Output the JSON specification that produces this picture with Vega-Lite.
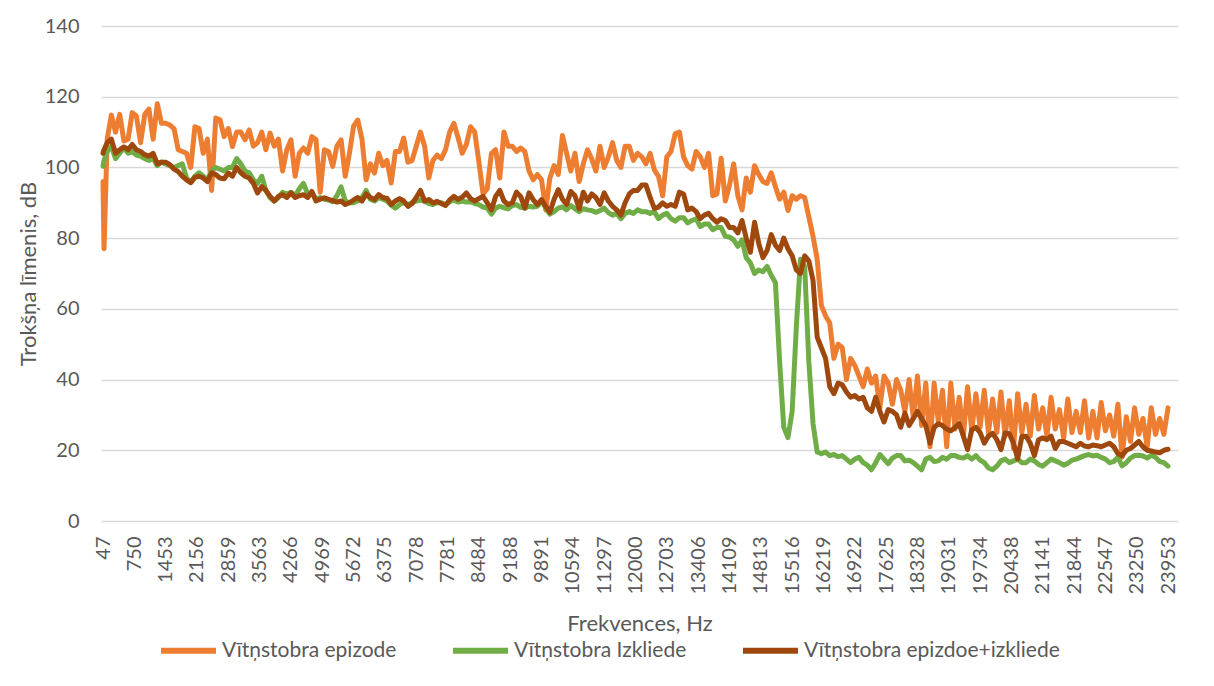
{
"$schema": "https://vega.github.io/schema/vega-lite/v6.json",
"width": 1077,
"height": 495,
"autosize": {"type": "none"},
"padding": {"left": 101, "top": 26, "right": 36, "bottom": 165},
"background": "white",
"config": {"view": {"stroke": null}, "font": "Lato"},
"data": {"values": [
{"f":47,"a":96,"b":100.3,"c":104},{"f":70,"a":77,"b":102,"c":105},{"f":141,"a":108,"b":104.5,"c":107},{"f":235,"a":114.8,"b":106,"c":108},{"f":328,"a":110,"b":102.5,"c":104},{"f":422,"a":115,"b":104,"c":105},{"f":516,"a":107.5,"b":105.5,"c":105.8},{"f":610,"a":108,"b":104,"c":105},{"f":703,"a":115.5,"b":104.5,"c":106.5},{"f":797,"a":114.5,"b":103.5,"c":105},{"f":891,"a":107,"b":103.2,"c":104.5},{"f":985,"a":115,"b":102.5,"c":103.6},{"f":1078,"a":116.5,"b":102,"c":103.2},{"f":1172,"a":108,"b":102.5,"c":104},{"f":1266,"a":118,"b":100.5,"c":101},{"f":1360,"a":112.5,"b":101.5,"c":101.5},{"f":1453,"a":112.5,"b":101,"c":101.5},{"f":1547,"a":112,"b":100.5,"c":100.8},{"f":1641,"a":111,"b":100,"c":99.5},{"f":1735,"a":105,"b":100.5,"c":98.8},{"f":1828,"a":104.5,"b":101,"c":97.5},{"f":1922,"a":104,"b":97,"c":96.5},{"f":2016,"a":100,"b":95.8,"c":95.7},{"f":2110,"a":111.5,"b":97.5,"c":97.2},{"f":2203,"a":111,"b":98.5,"c":97.5},{"f":2297,"a":104,"b":97.5,"c":97},{"f":2391,"a":108,"b":96.5,"c":96},{"f":2485,"a":93.5,"b":99,"c":98.5},{"f":2578,"a":114,"b":100,"c":98},{"f":2672,"a":113.5,"b":99.5,"c":97},{"f":2766,"a":108.7,"b":99,"c":96.8},{"f":2860,"a":111,"b":100,"c":98.4},{"f":2953,"a":105.9,"b":100,"c":97.5},{"f":3047,"a":110,"b":102.5,"c":100},{"f":3141,"a":110,"b":101,"c":98.5},{"f":3235,"a":107.8,"b":99,"c":97.5},{"f":3328,"a":110.6,"b":98.5,"c":97},{"f":3422,"a":106,"b":96.5,"c":95.5},{"f":3516,"a":107,"b":95.5,"c":92.8},{"f":3610,"a":110,"b":97.5,"c":94.6},{"f":3703,"a":105,"b":93.5,"c":93.5},{"f":3797,"a":109.7,"b":91.5,"c":91.8},{"f":3891,"a":106,"b":90.5,"c":90.5},{"f":3985,"a":108,"b":91.5,"c":91.8},{"f":4078,"a":99,"b":93,"c":92.3},{"f":4172,"a":105,"b":92.5,"c":91.5},{"f":4266,"a":107.8,"b":93,"c":92.8},{"f":4360,"a":97.5,"b":92,"c":91.5},{"f":4453,"a":104,"b":94,"c":92},{"f":4547,"a":105.5,"b":95.5,"c":92.3},{"f":4641,"a":104,"b":92.5,"c":91.5},{"f":4735,"a":108.7,"b":92.8,"c":93.2},{"f":4828,"a":107.8,"b":91,"c":90.5},{"f":4922,"a":93,"b":91.5,"c":91},{"f":5016,"a":105,"b":91,"c":91.4},{"f":5110,"a":104.5,"b":90.8,"c":91},{"f":5203,"a":100.3,"b":90.3,"c":90.6},{"f":5297,"a":106,"b":92,"c":90.2},{"f":5391,"a":107.8,"b":94.5,"c":90.5},{"f":5485,"a":97.5,"b":90.5,"c":89.5},{"f":5578,"a":104,"b":90,"c":90},{"f":5672,"a":111.7,"b":90,"c":90.8},{"f":5766,"a":113.4,"b":90.5,"c":91.5},{"f":5860,"a":108,"b":91.5,"c":90.5},{"f":5953,"a":96.5,"b":93.5,"c":92.5},
{"f":6047,"a":101,"b":91,"c":91.5},{"f":6141,"a":98.4,"b":90.5,"c":90.9},{"f":6235,"a":104,"b":91.5,"c":92.3},{"f":6328,"a":100.5,"b":91,"c":91.5},{"f":6422,"a":102,"b":90.5,"c":91.2},{"f":6516,"a":95.6,"b":89.3,"c":89.5},{"f":6610,"a":104.5,"b":88.5,"c":90.5},{"f":6703,"a":104.5,"b":89.5,"c":91.2},{"f":6797,"a":108.3,"b":90,"c":90.5},{"f":6891,"a":101.5,"b":89.5,"c":89},{"f":6985,"a":102,"b":90,"c":89.8},{"f":7078,"a":106,"b":90.5,"c":91.5},{"f":7172,"a":110,"b":90.8,"c":93.5},{"f":7266,"a":106,"b":90.4,"c":90.5},{"f":7360,"a":97,"b":89.8,"c":90.9},{"f":7453,"a":102,"b":89.5,"c":90},{"f":7547,"a":103.5,"b":90,"c":90.4},{"f":7641,"a":102.5,"b":90,"c":89.8},{"f":7735,"a":105,"b":89.5,"c":89.2},{"f":7828,"a":110,"b":90.3,"c":90.8},{"f":7922,"a":112.5,"b":90.8,"c":91.8},{"f":8016,"a":108.5,"b":90.2,"c":91},{"f":8110,"a":104,"b":90.5,"c":91.6},{"f":8203,"a":106.5,"b":90.2,"c":92.8},{"f":8297,"a":111.5,"b":90.3,"c":91.2},{"f":8391,"a":110,"b":89.8,"c":90.5},{"f":8485,"a":101.5,"b":89.5,"c":91.2},{"f":8578,"a":92.5,"b":88.8,"c":91.8},{"f":8672,"a":94,"b":88.5,"c":90},{"f":8766,"a":104,"b":86.8,"c":88},{"f":8860,"a":105,"b":88.5,"c":91.8},{"f":8953,"a":97,"b":89,"c":93.5},{"f":9047,"a":110,"b":88.6,"c":90.5},{"f":9141,"a":106,"b":88.3,"c":89.5},{"f":9235,"a":106,"b":89.2,"c":90},{"f":9328,"a":104.5,"b":89.5,"c":93},{"f":9422,"a":105.5,"b":88.7,"c":91.8},{"f":9516,"a":104.5,"b":88.5,"c":88.5},{"f":9610,"a":99,"b":89,"c":92.8},{"f":9703,"a":96.5,"b":88.8,"c":90.9},{"f":9797,"a":98,"b":89,"c":89.5},{"f":9891,"a":96.5,"b":90.5,"c":90.9},{"f":9985,"a":88,"b":88.5,"c":89},{"f":10078,"a":97,"b":86.8,"c":87.3},{"f":10172,"a":100.5,"b":87.5,"c":91},{"f":10266,"a":98,"b":88.5,"c":93.7},{"f":10360,"a":109,"b":88.8,"c":91},{"f":10453,"a":104,"b":88,"c":89.5},{"f":10547,"a":99,"b":89.2,"c":93.2},{"f":10641,"a":104,"b":88.3,"c":92},{"f":10735,"a":96,"b":87.5,"c":88.3},{"f":10828,"a":101,"b":88.3,"c":93},{"f":10922,"a":105,"b":88,"c":90.5},{"f":11016,"a":102.5,"b":87.8,"c":92.5},{"f":11110,"a":99,"b":87.3,"c":91.5},{"f":11203,"a":106,"b":87.8,"c":89.5},{"f":11297,"a":100,"b":88.5,"c":92.8},{"f":11391,"a":103,"b":87.2,"c":90.5},{"f":11485,"a":107,"b":86.5,"c":89},{"f":11578,"a":102,"b":87,"c":88},{"f":11672,"a":100,"b":85.5,"c":86.5},{"f":11766,"a":106,"b":87,"c":90},{"f":11860,"a":106,"b":87.5,"c":92.5},{"f":11953,"a":102,"b":87,"c":93.5},
{"f":12047,"a":104,"b":88,"c":93.5},{"f":12141,"a":103,"b":87.5,"c":95},{"f":12235,"a":101,"b":87.5,"c":95},{"f":12328,"a":104,"b":87,"c":91.5},{"f":12422,"a":99.3,"b":87.5,"c":88.4},{"f":12516,"a":97.5,"b":85.5,"c":88.8},{"f":12610,"a":92,"b":86.5,"c":90},{"f":12703,"a":103,"b":87,"c":89},{"f":12797,"a":104.5,"b":85.5,"c":89.5},{"f":12891,"a":109.5,"b":84.8,"c":89},{"f":12985,"a":110,"b":85.8,"c":93},{"f":13078,"a":103,"b":85.8,"c":92.5},{"f":13172,"a":100.5,"b":84.3,"c":88},{"f":13266,"a":99.5,"b":85,"c":88.5},{"f":13360,"a":104.5,"b":85.5,"c":87.5},{"f":13453,"a":103,"b":83.3,"c":85.5},{"f":13547,"a":100,"b":84,"c":86.5},{"f":13641,"a":104,"b":84,"c":87},{"f":13735,"a":92,"b":82.4,"c":85.5},{"f":13828,"a":92.5,"b":83,"c":84.5},{"f":13922,"a":102.6,"b":83,"c":85.5},{"f":14016,"a":90.5,"b":80.5,"c":85},{"f":14110,"a":95,"b":80.3,"c":83},{"f":14203,"a":101,"b":79.5,"c":83},{"f":14297,"a":92,"b":77.7,"c":81.5},{"f":14391,"a":88,"b":79.5,"c":85},{"f":14485,"a":97,"b":74.5,"c":80},{"f":14578,"a":93,"b":73,"c":76},{"f":14672,"a":100.5,"b":70,"c":84.5},{"f":14766,"a":98,"b":71,"c":78.5},{"f":14860,"a":96,"b":70.5,"c":74.5},{"f":14953,"a":95.5,"b":72,"c":76.5},{"f":15047,"a":98.5,"b":69.5,"c":81},{"f":15141,"a":94.5,"b":67.4,"c":78},{"f":15235,"a":91,"b":45,"c":76.5},{"f":15328,"a":93,"b":26.5,"c":80},{"f":15422,"a":87.8,"b":23.6,"c":77},{"f":15516,"a":92,"b":31,"c":75},{"f":15610,"a":91,"b":55,"c":71},{"f":15703,"a":92,"b":74,"c":70},{"f":15797,"a":91.5,"b":72,"c":75},{"f":15891,"a":86,"b":45,"c":73.5},{"f":15985,"a":80.5,"b":27.5,"c":68},{"f":16078,"a":74,"b":19.5,"c":52},{"f":16172,"a":61,"b":19,"c":49},{"f":16266,"a":58,"b":19.5,"c":46},{"f":16360,"a":56,"b":18.5,"c":38},{"f":16453,"a":46,"b":18.8,"c":36},{"f":16547,"a":50,"b":18.2,"c":39},{"f":16641,"a":49,"b":18.5,"c":38.5},{"f":16735,"a":40,"b":17.5,"c":36.5},{"f":16828,"a":46,"b":16.5,"c":35},{"f":16922,"a":44,"b":17.5,"c":35.5},{"f":17016,"a":41,"b":18,"c":34.5},{"f":17110,"a":38,"b":16.5,"c":35},{"f":17203,"a":43,"b":15.8,"c":32},{"f":17297,"a":39,"b":14.5,"c":31},{"f":17391,"a":41,"b":16.5,"c":35},{"f":17485,"a":32,"b":18.8,"c":31},{"f":17578,"a":41,"b":17.5,"c":28},{"f":17672,"a":39,"b":16.2,"c":31.5},{"f":17766,"a":33,"b":17.8,"c":31},{"f":17860,"a":40,"b":18.5,"c":30},{"f":17953,"a":37,"b":18.5,"c":26.5},
{"f":18047,"a":31,"b":17,"c":30.5},{"f":18141,"a":40,"b":17.2,"c":27},{"f":18235,"a":29,"b":16.5,"c":29},{"f":18328,"a":41,"b":15.5,"c":31},{"f":18422,"a":27,"b":14.5,"c":29},{"f":18516,"a":39,"b":17.5,"c":27},{"f":18610,"a":21,"b":18,"c":22},{"f":18703,"a":39,"b":16.8,"c":26.5},{"f":18797,"a":28,"b":17,"c":27.5},{"f":18891,"a":37,"b":18,"c":27},{"f":18985,"a":21,"b":17.5,"c":26},{"f":19078,"a":39,"b":18.5,"c":25.5},{"f":19172,"a":26,"b":18.5,"c":26.5},{"f":19266,"a":35,"b":18,"c":27.5},{"f":19360,"a":24,"b":17.8,"c":24},{"f":19453,"a":38,"b":18.5,"c":20.2},{"f":19547,"a":25.5,"b":17.5,"c":25.8},{"f":19641,"a":36,"b":18.5,"c":26.5},{"f":19735,"a":26.5,"b":17.2,"c":25},{"f":19828,"a":37,"b":16.5,"c":22},{"f":19922,"a":25,"b":15,"c":24},{"f":20016,"a":34.5,"b":14.5,"c":24.8},{"f":20110,"a":25,"b":15.5,"c":23},{"f":20203,"a":36.5,"b":17,"c":20.2},{"f":20297,"a":24,"b":17.5,"c":24.9},{"f":20391,"a":34,"b":16.5,"c":24.7},{"f":20485,"a":20.5,"b":17,"c":22},{"f":20578,"a":36,"b":17.5,"c":17.6},{"f":20672,"a":25,"b":16.5,"c":23.9},{"f":20766,"a":33,"b":16.5,"c":24},{"f":20860,"a":24,"b":17.5,"c":22},{"f":20953,"a":35.5,"b":17,"c":18.5},{"f":21047,"a":26,"b":16,"c":23},{"f":21141,"a":32,"b":15.5,"c":23.5},{"f":21235,"a":24,"b":16.5,"c":23},{"f":21328,"a":35,"b":17.5,"c":24},{"f":21422,"a":26,"b":17,"c":20.5},{"f":21516,"a":31.5,"b":16.5,"c":22.5},{"f":21610,"a":23.5,"b":15.8,"c":22.5},{"f":21703,"a":34.5,"b":16.3,"c":22},{"f":21797,"a":25,"b":17.2,"c":21.5},{"f":21891,"a":31,"b":17.5,"c":21},{"f":21985,"a":25,"b":18,"c":22},{"f":22078,"a":34,"b":18.5,"c":21.2},{"f":22172,"a":23.5,"b":18.8,"c":21},{"f":22266,"a":31,"b":18.4,"c":21.5},{"f":22360,"a":23.5,"b":18.6,"c":21.3},{"f":22453,"a":33.5,"b":18,"c":21},{"f":22547,"a":25.5,"b":17.5,"c":21.5},{"f":22641,"a":30,"b":16.5,"c":22},{"f":22735,"a":24,"b":16.8,"c":21},{"f":22828,"a":33,"b":18,"c":19},{"f":22922,"a":18,"b":15.6,"c":18.5},{"f":23016,"a":29.5,"b":16.5,"c":20},{"f":23110,"a":22.5,"b":17.8,"c":20.5},{"f":23203,"a":32,"b":18.5,"c":21.5},{"f":23297,"a":24.5,"b":18.6,"c":22.5},{"f":23391,"a":29,"b":18.4,"c":21},{"f":23485,"a":21,"b":17.8,"c":20},{"f":23578,"a":32,"b":18.6,"c":19.8},{"f":23672,"a":24.5,"b":18,"c":19.5},{"f":23766,"a":29,"b":16.8,"c":19.3},{"f":23860,"a":24.5,"b":16.5,"c":20},{"f":23953,"a":32,"b":15.5,"c":20.3}
]},
"transform": [{"fold": ["a", "b", "c"], "as": ["s", "v"]}],
"mark": {"type": "line", "strokeWidth": 5, "strokeJoin": "round", "strokeCap": "round"},
"encoding": {
  "x": {"field": "f", "type": "quantitative",
    "scale": {"domain": [2, 24177], "nice": false, "zero": false},
    "axis": {"values": [47,750,1453,2156,2859,3563,4266,4969,5672,6375,7078,7781,8484,9188,9891,10594,11297,12000,12703,13406,14109,14813,15516,16219,16922,17625,18328,19031,19734,20438,21141,21844,22547,23250,23953],
      "format": "d",
      "labelAngle": -90, "labelFontSize": 20, "labelColor": "#595959", "labelPadding": 15, "labelOverlap": false, "labelFlush": false,
      "ticks": false, "domain": false, "grid": false,
      "title": "Frekvences, Hz", "titleFontSize": 22, "titleFontWeight": "normal", "titleColor": "#595959", "titleY": 102, "titleBaseline": "middle"}},
  "y": {"field": "v", "type": "quantitative",
    "scale": {"domain": [0, 140], "nice": false},
    "axis": {"values": [0,20,40,60,80,100,120,140], "labelFontSize": 20, "labelColor": "#595959", "labelPadding": 22,
      "ticks": false, "domain": false, "gridColor": "#d9d9d9", "gridWidth": 1.5,
      "title": "Trokšņa līmenis, dB", "titleFontSize": 22, "titleFontWeight": "normal", "titleColor": "#595959",
      "titleX": -73, "titleY": 247.5, "titleBaseline": "middle", "titleAngle": -90, "titleAlign": "center"}},
  "color": {"field": "s", "type": "nominal",
    "scale": {"domain": ["a", "b", "c"], "range": ["#ED7D31", "#70AD47", "#9E480E"]},
    "legend": {"orient": "none", "legendX": 57, "legendY": 594, "direction": "horizontal", "title": null,
      "symbolType": "stroke", "symbolSize": 3025, "symbolStrokeWidth": 6, "labelFontSize": 21, "labelColor": "#595959",
      "labelLimit": 500, "labelOffset": 3, "columnPadding": 44,
      "labelExpr": "datum.value == 'a' ? 'Vītņstobra epizode' : datum.value == 'b' ? 'Vītņstobra Izkliede' : 'Vītņstobra epizdoe+izkliede'"}}
}
}
